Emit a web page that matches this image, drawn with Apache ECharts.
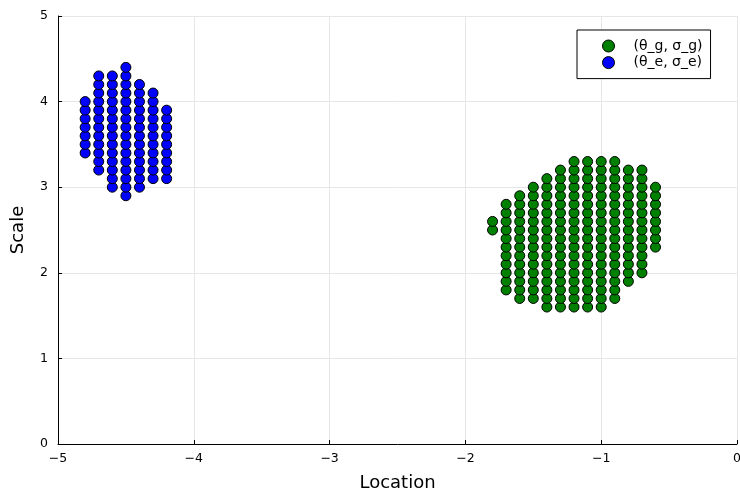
<!DOCTYPE html>
<html><head><meta charset="utf-8">
<script src="https://cdn.jsdelivr.net/npm/echarts@6/dist/echarts.min.js"></script>
<style>html,body{margin:0;padding:0;background:#fff}#c{width:740px;height:491px}</style>
</head><body><div id="c"></div>
<script>
// Green group: (θ_g, σ_g) — columns of x and their y values
const greenX = [-1.8, -1.7, -1.6, -1.5, -1.4, -1.3, -1.2, -1.1, -1.0, -0.9, -0.8, -0.7, -0.6];
const greenY = [
  [2.5, 2.6],
  [1.8, 1.9, 2.0, 2.1, 2.2, 2.3, 2.4, 2.5, 2.6, 2.7, 2.8],
  [1.7, 1.8, 1.9, 2.0, 2.1, 2.2, 2.3, 2.4, 2.5, 2.6, 2.7, 2.8, 2.9],
  [1.7, 1.8, 1.9, 2.0, 2.1, 2.2, 2.3, 2.4, 2.5, 2.6, 2.7, 2.8, 2.9, 3.0],
  [1.6, 1.7, 1.8, 1.9, 2.0, 2.1, 2.2, 2.3, 2.4, 2.5, 2.6, 2.7, 2.8, 2.9, 3.0, 3.1],
  [1.6, 1.7, 1.8, 1.9, 2.0, 2.1, 2.2, 2.3, 2.4, 2.5, 2.6, 2.7, 2.8, 2.9, 3.0, 3.1, 3.2],
  [1.6, 1.7, 1.8, 1.9, 2.0, 2.1, 2.2, 2.3, 2.4, 2.5, 2.6, 2.7, 2.8, 2.9, 3.0, 3.1, 3.2, 3.3],
  [1.6, 1.7, 1.8, 1.9, 2.0, 2.1, 2.2, 2.3, 2.4, 2.5, 2.6, 2.7, 2.8, 2.9, 3.0, 3.1, 3.2, 3.3],
  [1.6, 1.7, 1.8, 1.9, 2.0, 2.1, 2.2, 2.3, 2.4, 2.5, 2.6, 2.7, 2.8, 2.9, 3.0, 3.1, 3.2, 3.3],
  [1.7, 1.8, 1.9, 2.0, 2.1, 2.2, 2.3, 2.4, 2.5, 2.6, 2.7, 2.8, 2.9, 3.0, 3.1, 3.2, 3.3],
  [1.9, 2.0, 2.1, 2.2, 2.3, 2.4, 2.5, 2.6, 2.7, 2.8, 2.9, 3.0, 3.1, 3.2],
  [2.0, 2.1, 2.2, 2.3, 2.4, 2.5, 2.6, 2.7, 2.8, 2.9, 3.0, 3.1, 3.2],
  [2.3, 2.4, 2.5, 2.6, 2.7, 2.8, 2.9, 3.0]
];
// Blue group: (θ_e, σ_e)
const blueX = [-4.8, -4.7, -4.6, -4.5, -4.4, -4.3, -4.2];
const blueY = [
  [3.4, 3.5, 3.6, 3.7, 3.8, 3.9, 4.0],
  [3.2, 3.3, 3.4, 3.5, 3.6, 3.7, 3.8, 3.9, 4.0, 4.1, 4.2, 4.3],
  [3.0, 3.1, 3.2, 3.3, 3.4, 3.5, 3.6, 3.7, 3.8, 3.9, 4.0, 4.1, 4.2, 4.3],
  [2.9, 3.0, 3.1, 3.2, 3.3, 3.4, 3.5, 3.6, 3.7, 3.8, 3.9, 4.0, 4.1, 4.2, 4.3, 4.4],
  [3.0, 3.1, 3.2, 3.3, 3.4, 3.5, 3.6, 3.7, 3.8, 3.9, 4.0, 4.1, 4.2],
  [3.1, 3.2, 3.3, 3.4, 3.5, 3.6, 3.7, 3.8, 3.9, 4.0, 4.1],
  [3.1, 3.2, 3.3, 3.4, 3.5, 3.6, 3.7, 3.8, 3.9]
];
const seriesNames = ['(θ_g, σ_g)', '(θ_e, σ_e)'];
const xTicks = [-5, -4, -3, -2, -1, 0];
const yTicks = [0, 1, 2, 3, 4, 5];

function pts(xs, yss) {
  const out = [];
  xs.forEach((x, i) => yss[i].forEach(y => out.push([x, y])));
  return out;
}
const FONT = 'DejaVu Sans';
const fmt = v => (v < 0 ? '\u2212' + Math.abs(v) : String(v));
const chart = echarts.init(document.getElementById('c'), null, {renderer: 'canvas'});
chart.setOption({
  animation: false,
  backgroundColor: '#fff',
  grid: {left: 58, right: 3, top: 16, bottom: 47, containLabel: false, outerBoundsMode: 'none'},
  legend: {
    left: 577, top: 30, orient: 'vertical',
    padding: [8, 8, 8, 25],
    itemWidth: 12, itemHeight: 12, itemGap: 0.6,
    borderColor: '#000', borderWidth: 1, backgroundColor: '#fff', borderRadius: 0,
    textStyle: {fontFamily: FONT, fontSize: 14, lineHeight: 16, color: '#000', padding: [0, 0, 0, 14]},
    data: [
      {name: seriesNames[0], icon: 'circle', itemStyle: {color: '#008000', borderColor: '#000', borderWidth: 1}},
      {name: seriesNames[1], icon: 'circle', itemStyle: {color: '#0000ff', borderColor: '#000', borderWidth: 1}}
    ]
  },
  xAxis: {
    type: 'value', min: xTicks[0], max: xTicks[xTicks.length - 1], interval: 1,
    name: 'Location', nameLocation: 'middle', nameGap: 30,
    nameTextStyle: {fontFamily: FONT, fontSize: 18, color: '#000'},
    axisLine: {show: true, onZero: false, lineStyle: {color: '#000', width: 1}},
    axisTick: {show: true, inside: true, length: 4, lineStyle: {color: '#000'}},
    axisLabel: {fontFamily: FONT, fontSize: 12.5, color: '#000', margin: 8, formatter: fmt, showMaxLabel: true, showMinLabel: true},
    splitLine: {show: true, lineStyle: {color: '#e6e6e6', width: 1}}
  },
  yAxis: {
    type: 'value', min: yTicks[0], max: yTicks[yTicks.length - 1], interval: 1,
    name: 'Scale', nameLocation: 'middle', nameGap: 31,
    nameTextStyle: {fontFamily: FONT, fontSize: 18, color: '#000'},
    axisLine: {show: true, onZero: false, lineStyle: {color: '#000', width: 1}},
    axisTick: {show: true, inside: true, length: 4, lineStyle: {color: '#000'}},
    axisLabel: {fontFamily: FONT, fontSize: 12.5, color: '#000', margin: 10, formatter: fmt, showMaxLabel: true, showMinLabel: true},
    splitLine: {show: true, lineStyle: {color: '#e6e6e6', width: 1}}
  },
  series: [
    {name: seriesNames[0], type: 'scatter', symbol: 'circle', symbolSize: 10,
     itemStyle: {color: '#008000', borderColor: '#000', borderWidth: 1, opacity: 1},
     data: pts(greenX, greenY)},
    {name: seriesNames[1], type: 'scatter', symbol: 'circle', symbolSize: 10,
     itemStyle: {color: '#0000ff', borderColor: '#000', borderWidth: 1, opacity: 1},
     data: pts(blueX, blueY)}
  ]
});
</script></body></html>
